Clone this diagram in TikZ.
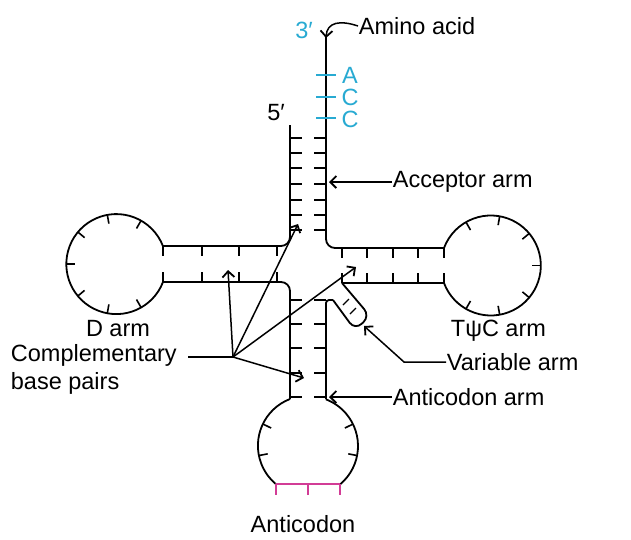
\documentclass[tikz,border=0pt]{standalone}
\usepackage{fontspec}
\setmainfont{Liberation Sans}
\usetikzlibrary{arrows.meta,calc}
\definecolor{cy}{RGB}{40,170,210}
\definecolor{pk}{RGB}{210,60,150}
\begin{document}
\begin{tikzpicture}[x=1pt,y=-1pt,line width=1.8pt,
  lbl/.style={font=\fontsize{23.5}{28}\selectfont,inner sep=0pt},
  arr/.style={line width=1.5pt,-{Straight Barb[length=6pt,width=12pt,line width=1.8pt]}},
  tk/.style={line width=1.6pt}]
\useasboundingbox (0,0) rectangle (631,539);
% acceptor + D arm top
\draw[rounded corners=9] (290,125) -- (290,246) -- (163,246);
\draw[rounded corners=9] (163,282) -- (290,282) -- (290,399);
% right strand + TpsiC top
\draw[rounded corners=9] (326,36) -- (326,248) -- (444,248);
\draw (444,283) -- (342,283);
\draw[rounded corners=9] (342,283) -- (370,316) -- (355,330) -- (333,300);
\draw[rounded corners=3] (333,300) -- (326,300) -- (326,399);
\draw[line width=1.2pt] (343,305)--(349,299) (350,314)--(356,308);
% loops
\coordinate (dc) at (116,264);
\draw (163,282) arc (21:339:50);
\coordinate (tc) at (491,265.5);
\draw (444,283) arc (159.5:-159.5:50);
\coordinate (ac) at (308,446);
\draw (290,399) arc (-111:-229.5:50);
\draw ($(ac)+(49.5:50)$) arc (49.5:-69:50);
\draw[pk] ($(ac)+(130.5:50)$) -- ($(ac)+(49.5:50)$);
\foreach \x in {276,308,340} \draw[pk,tk] (\x,484) -- (\x,495);
\foreach \a in {60,100,140,180,220,260,300}
  \draw[tk] ($(dc)+(\a:50)$) -- ($(dc)+(\a:41)$);
\foreach \a in {120,80,40,0,-40,-80,-120}
  \draw[tk] ($(tc)+(\a:50)$) -- ($(tc)+(\a:41)$);
\foreach \a in {206,169,-26,11}
  \draw[tk] ($(ac)+(\a:50)$) -- ($(ac)+(\a:41)$);
% base pair ticks
\foreach \y in {138,153,168,184,200,215,230,300,324,348,373,397}
  \draw[tk] (290,\y) -- (302,\y) (314,\y) -- (326,\y);
\foreach \x in {163,202,239,277}
  \draw[tk] (\x,246) -- (\x,256) (\x,272) -- (\x,282);
\foreach \x in {342,367,393,418,444}
  \draw[tk] (\x,248) -- (\x,258) (\x,273) -- (\x,283);
\foreach \y in {75,97,118}
  \draw[cy,tk] (316,\y) -- (336,\y);
% labels
\node[lbl,cy] (three) at (304,30) {3′};
\node[lbl,cy] (nA) at (350,75) {A};
\node[lbl,cy] (nC1) at (350,97) {C};
\node[lbl,cy] (nC2) at (350,119) {C};
\node[lbl] (five) at (276,113) {5′};
\node[lbl,anchor=west] (amino) at (358,26) {Amino acid};
\coordinate (aaend) at (326,38);
\draw[arr] (amino.west) .. controls (340,20) and (327,22) .. (aaend);
\node[lbl,anchor=west] (acc) at (392,182) {Acceptor arm};
\coordinate (accend) at (329,182);
\draw[arr] (acc.west) -- (accend);
\node[lbl] (darm) at (118,329) {D arm};
\node[lbl,anchor=west] (tpc) at (450,331) {TψC arm};
\node[lbl,anchor=west,align=left] (comp) at (10,369) {Complementary\\base pairs};
\coordinate (hub) at (233,357);
\draw[line width=1.5pt] (188,357) -- (hub);
\coordinate (p1) at (228,270);
\coordinate (p2) at (298,224);
\coordinate (p3) at (356,267);
\coordinate (p4) at (304,378);
\foreach \p in {p1,p2,p3,p4} \draw[arr] (hub) -- (\p);
\node[lbl,anchor=west] (var) at (446,362) {Variable arm};
\coordinate (vk) at (404,362);
\coordinate (vend) at (364,326);
\draw[arr] (var.west) -- (vk) -- (vend);
\node[lbl,anchor=west] (antarm) at (392,397) {Anticodon arm};
\coordinate (antend) at (329,397);
\draw[arr] (antarm.west) -- (antend);
\node[lbl] (anticodon) at (303,524) {Anticodon};
\end{tikzpicture}
\end{document}
